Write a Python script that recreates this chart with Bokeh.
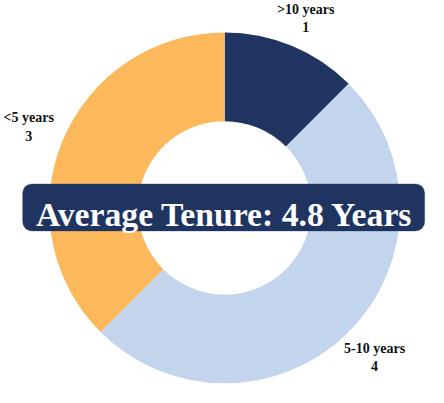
import math
from bokeh.plotting import figure
from bokeh.models import Range1d, BoxAnnotation
from bokeh.core.properties import value
from bokeh.embed import file_html
from bokeh.resources import INLINE

categories = [">10 years", "5-10 years", "<5 years"]
counts = [1, 4, 3]
colors = ["#1F3460", "#C2D5EC", "#FCB85A"]
banner_text = "Average Tenure: 4.8 Years"

W, H = 428, 387
p = figure(width=W, height=H, output_backend="svg", toolbar_location=None,
           x_range=Range1d(0, 444), y_range=Range1d(0, 403),
           min_border=0)
p.axis.visible = False
p.grid.visible = False
p.outline_line_color = None
p.background_fill_color = "white"
p.border_fill_color = "white"

FONT = value("'Liberation Serif', 'Times New Roman', serif")
S = W / 444.0
cx, cy = 232.5, 187.0
total = sum(counts)
starts, ends, mids = [], [], []
acc = 0
for c in counts:
    a0 = math.pi / 2 - 2 * math.pi * acc / total
    acc += c
    a1 = math.pi / 2 - 2 * math.pi * acc / total
    starts.append(a0)
    ends.append(a1)
    mids.append((a0 + a1) / 2)

p.annular_wedge(x=[cx] * 3, y=[cy] * 3, inner_radius=90, outer_radius=182,
                start_angle=starts, end_angle=ends, direction="clock",
                fill_color=colors, line_color=None)

# labels, placed just outside each slice along its middle angle
lr = 220
lx = [cx + lr * math.cos(m) for m in mids]
ly = [min(cy + lr * math.sin(m), 384.5) for m in mids]
fs = "%.1fpx" % (14.5 * S)
p.text(x=lx, y=[v + 9.5 for v in ly], text=categories,
       text_font=FONT, text_font_style="bold",
       text_font_size=fs, text_align="center", text_baseline="middle",
       text_color="#111111")
p.text(x=lx, y=[v - 9.5 for v in ly], text=[str(c) for c in counts],
       text_font=FONT, text_font_style="bold",
       text_font_size=fs, text_align="center", text_baseline="middle",
       text_color="#111111")

# banner
box = BoxAnnotation(left=23, right=440, bottom=163, top=212,
                    fill_color="#1F3460", fill_alpha=1.0,
                    line_color="#1F3460", border_radius=9)
p.add_layout(box)
t = p.text(x=[cx], y=[180], text=[banner_text],
           text_font=FONT, text_font_style="bold",
           text_font_size="%.1fpx" % (35 * S), text_align="center",
           text_baseline="alphabetic", text_color="white")
t.level = "overlay"

open("out.html", "w").write(file_html(p, INLINE))
